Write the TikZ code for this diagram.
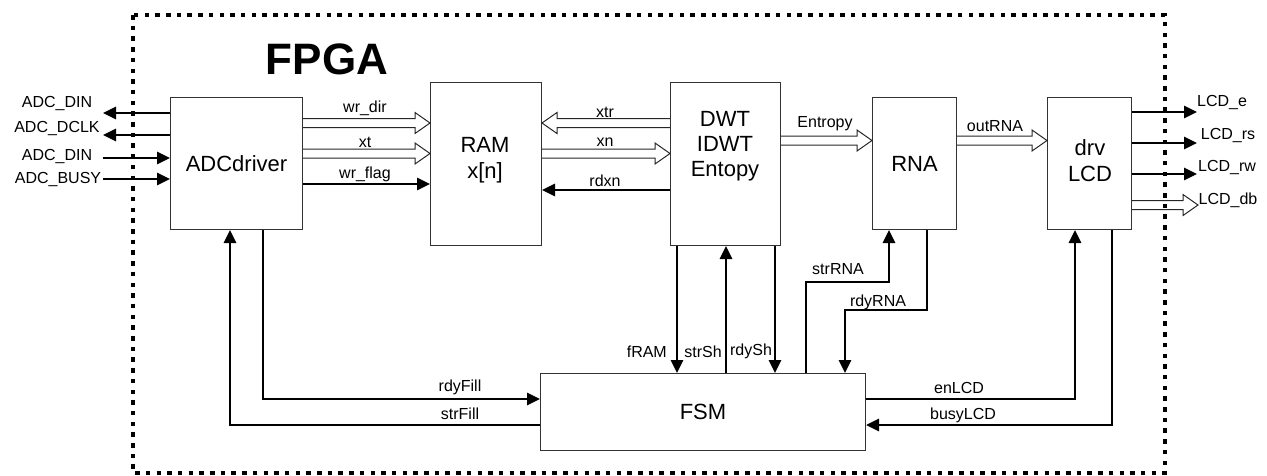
\documentclass[tikz,border=0pt]{standalone}
\usepackage{fontspec}
\setmainfont{Liberation Sans}
\usetikzlibrary{arrows.meta,calc}
\begin{document}
\begin{tikzpicture}[x=1pt,y=-1pt,line join=miter,
  box/.style={draw=black!80,line width=1pt,inner sep=0pt,anchor=north west,align=center,font=\fontsize{22}{26}\selectfont},
  txt/.style={inner sep=0pt,align=center,font=\fontsize{22}{26}\selectfont},
  lbl/.style={inner sep=0pt,font=\fontsize{16}{18}\selectfont},
  sig/.style={line width=2.8pt,-{Triangle[length=13pt,width=12pt]}},
  wire/.style={line width=2.8pt},
  hollow/.style={line width=1pt,draw=black!85,to path={
    let \p1=(\tikztostart), \p2=(\tikztotarget),
        \p3=($(\tikztotarget)!15pt!(\tikztostart)$) in
    (\x1,\y1+4.5pt) -- (\x3,\y1+4.5pt) -- (\x3,\y1+10.5pt) -- (\x2,\y1)
    -- (\x3,\y1-10.5pt) -- (\x3,\y1-4.5pt) -- (\x1,\y1-4.5pt)}},
  frame/.style={line width=4pt,dash pattern=on 4.5pt off 6.2pt}
]
\useasboundingbox (0,0) rectangle (1267,475);
\draw[frame] (133,15) rectangle (1165,473);
\node[inner sep=0pt,font=\fontsize{44}{48}\selectfont\bfseries] (fpga) at (327,59) {FPGA};

% blocks
\node[box,minimum width=132pt,minimum height=132pt] (adc) at (170,97) {ADCdriver};
\node[box,minimum width=111pt,minimum height=163pt] (ram) at (430,82) {};
\node[txt] (ramt) at (485,160) {RAM\\x[n]};
\node[box,minimum width=110pt,minimum height=163pt] (dwt) at (670,82) {};
\node[txt,font=\fontsize{22}{25}\selectfont] (dwtt) at (725,146) {DWT\\IDWT\\Entopy};
\node[box,minimum width=84pt,minimum height=132pt] (rna) at (872,97) {RNA};
\node[box,minimum width=84pt,minimum height=132pt] (drv) at (1047,97) {};
\node[txt] (drvt) at (1090,161) {drv\\LCD};
\node[box,minimum width=325pt,minimum height=77pt] (fsm) at (540,373) {FSM};

% external ADC signals
\coordinate (a1) at (103,113);
\coordinate (a2) at (103,135);
\coordinate (a3) at (103,158);
\coordinate (a4) at (103,179);
\node[lbl] (la1) at (57,103) {ADC\_DIN};
\node[lbl] (la2) at (57,128) {ADC\_DCLK};
\node[lbl] (la3) at (57,156) {ADC\_DIN};
\node[lbl] (la4) at (58,179) {ADC\_BUSY};
\draw[sig] (adc.west |- a1) -- (a1);
\draw[sig] (adc.west |- a2) -- (a2);
\draw[sig] (a3) -- (adc.west |- a3);
\draw[sig] (a4) -- (adc.west |- a4);

% external LCD signals
\coordinate (c1) at (1197,112);
\coordinate (c2) at (1197,143);
\coordinate (c3) at (1197,174);
\coordinate (c4) at (1198,205);
\node[lbl] (lc1) at (1222,102) {LCD\_e};
\node[lbl] (lc2) at (1228,135) {LCD\_rs};
\node[lbl] (lc3) at (1227,167) {LCD\_rw};
\node[lbl] (lc4) at (1228,200) {LCD\_db};
\draw[sig] (drv.east |- c1) -- (c1);
\draw[sig] (drv.east |- c2) -- (c2);
\draw[sig] (drv.east |- c3) -- (c3);
\draw[hollow] (drv.east |- c4) to (c4);

% ADC -> RAM
\coordinate (y1) at (0,123);
\coordinate (y2) at (0,153.5);
\coordinate (y3) at (0,184);
\draw[hollow] (adc.east |- y1) to (ram.west |- y1);
\draw[hollow] (adc.east |- y2) to (ram.west |- y2);
\draw[sig] (adc.east |- y3) -- (ram.west |- y3);
\node[lbl] (lwd) at (365,108) {wr\_dir};
\node[lbl] (lxt) at (365,142) {xt};
\node[lbl] (lwf) at (365,174) {wr\_flag};

% RAM <-> DWT
\coordinate (y4) at (0,190);
\draw[hollow] (dwt.west |- y1) to (ram.east |- y1);
\draw[hollow] (ram.east |- y2) to (dwt.west |- y2);
\draw[sig] (dwt.west |- y4) -- (ram.east |- y4);
\node[lbl] (lxtr) at (605,112) {xtr};
\node[lbl] (lxn) at (605,142) {xn};
\node[lbl] (lrdxn) at (605,181) {rdxn};

% DWT -> RNA -> drv
\coordinate (y5) at (0,140.5);
\draw[hollow] (dwt.east |- y5) to (rna.west |- y5);
\draw[hollow] (rna.east |- y5) to (drv.west |- y5);
\node[lbl] (lent) at (825,124) {Entropy};
\node[lbl] (lout) at (995,126) {outRNA};

% ADC <-> FSM
\coordinate (y6) at (0,399);
\coordinate (y7) at (0,425);
\draw[sig] (adc.south -| 263,0) |- (fsm.west |- y6);
\draw[sig] (fsm.west |- y7) -| (adc.south -| 230,0);
\node[lbl] (lrf) at (460,387) {rdyFill};
\node[lbl] (lsf) at (460,414) {strFill};

% DWT <-> FSM
\draw[sig] (dwt.south -| 677,0) -- (fsm.north -| 677,0);
\draw[sig] (fsm.north -| 726,0) -- (dwt.south -| 726,0);
\draw[sig] (dwt.south -| 775,0) -- (fsm.north -| 775,0);
\node[lbl,anchor=east] (lfr) at (667,352) {fRAM};
\node[lbl] (lss) at (703,352) {strSh};
\node[lbl] (lrs) at (751,351) {rdySh};

% RNA <-> FSM
\draw[sig] (fsm.north -| 806,0) |- (889,282) -- (rna.south -| 889,0);
\draw[sig] (rna.south -| 927,0) |- (845,310) -- (fsm.north -| 845,0);
\node[lbl] (lsr) at (838,269) {strRNA};
\node[lbl] (lrr) at (878,302) {rdyRNA};

% drv <-> FSM
\draw[sig] (fsm.east |- y6) -| (drv.south -| 1075,0);
\draw[sig] (drv.south -| 1112,0) |- (fsm.east |- y7);
\node[lbl] (len) at (959,388) {enLCD};
\node[lbl] (lbl) at (963,415) {busyLCD};
\end{tikzpicture}
\end{document}
